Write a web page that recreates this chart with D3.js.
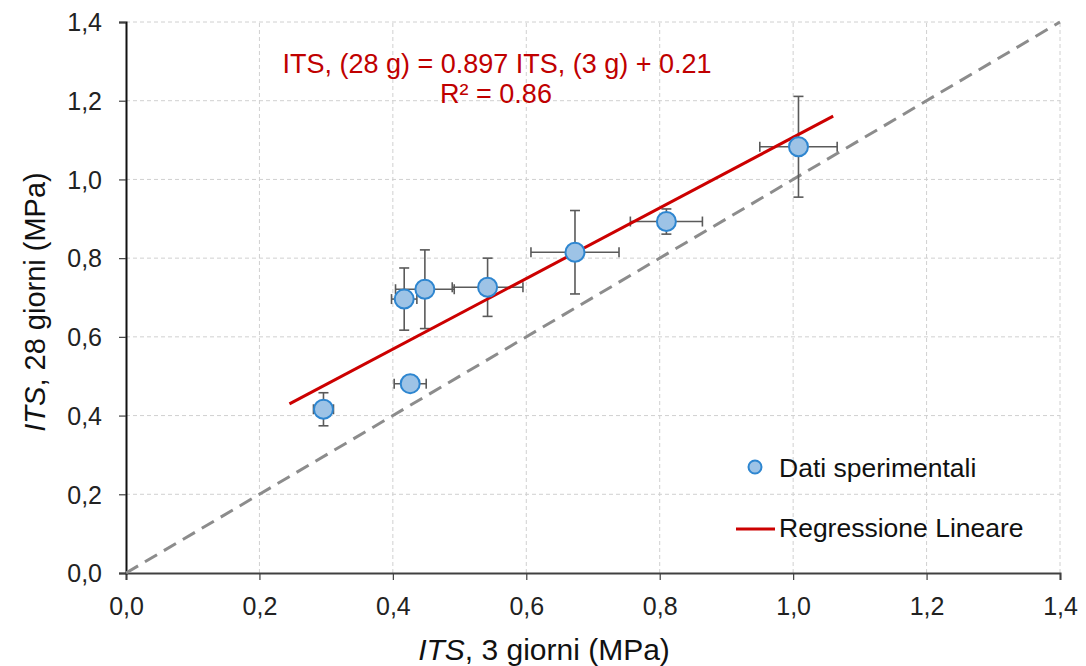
<!DOCTYPE html>
<html>
<head>
<meta charset="utf-8">
<script src="https://cdn.jsdelivr.net/npm/d3@7"></script>
<style>
  body { margin: 0; background: #fff; }
  text { font-family: "Liberation Sans", Arial, sans-serif; }
</style>
</head>
<body>
<script>
// valori
const its3 = [0.296, 0.426, 0.417, 0.448, 0.542, 0.673, 0.810, 1.008];
const its28 = [0.416, 0.481, 0.696, 0.721, 0.726, 0.815, 0.893, 1.083];
const errX = [0.015, 0.024, 0.019, 0.044, 0.053, 0.066, 0.054, 0.058];
const errY = [0.042, 0.010, 0.079, 0.100, 0.074, 0.106, 0.032, 0.128];
const fitSlope = 0.897;
const fitIntercept = 0.21;
const fitRange = [0.245, 1.06];
const ticks = [0, 0.2, 0.4, 0.6, 0.8, 1.0, 1.2, 1.4];

const width = 1086;
const height = 666;
const margin = { top: 22, right: 26, bottom: 93, left: 126 };

const svg = d3.select('body')
  .append('svg')
  .attr('width', width)
  .attr('height', height);

const x = d3.scaleLinear().domain([0, 1.4]).range([margin.left, width - margin.right]);
const y = d3.scaleLinear().domain([0, 1.4]).range([height - margin.bottom, margin.top]);
const fmt = d => d3.format('.1f')(d).replace('.', ',');

// griglia
svg.append('g').selectAll('line')
  .data(ticks.slice(1))
  .enter().append('line')
  .attr('x1', d => x(d)).attr('x2', d => x(d))
  .attr('y1', y(0)).attr('y2', y(1.4))
  .attr('stroke', '#d0d0d0').attr('stroke-dasharray', '4,3');
svg.append('g').selectAll('line')
  .data(ticks.slice(1))
  .enter().append('line')
  .attr('y1', d => y(d)).attr('y2', d => y(d))
  .attr('x1', x(0)).attr('x2', x(1.4))
  .attr('stroke', '#d0d0d0').attr('stroke-dasharray', '4,3');

// assi
const xAxis = svg.append('g')
  .attr('transform', `translate(0,${y(0)})`)
  .call(d3.axisBottom(x).tickValues(ticks).tickFormat(fmt).tickSize(7).tickPadding(17));
const yAxis = svg.append('g')
  .attr('transform', `translate(${x(0)},0)`)
  .call(d3.axisLeft(y).tickValues(ticks).tickFormat(fmt).tickSize(7).tickPadding(17));
[xAxis, yAxis].forEach(a => {
  a.select('.domain').attr('stroke', '#404040').attr('stroke-width', 2);
  a.selectAll('.tick line').attr('stroke', '#404040').attr('stroke-width', 1.2);
  a.selectAll('text').attr('font-size', 25).attr('fill', '#222')
    .style('font-family', '"Liberation Sans", Arial, sans-serif');
});
yAxis.select('.domain').attr('stroke', '#111');
yAxis.selectAll('text').attr('dy', '0.35em');

// bisettrice
svg.append('line')
  .attr('x1', x(0)).attr('y1', y(0))
  .attr('x2', x(1.4)).attr('y2', y(1.4))
  .attr('stroke', '#8c8c8c').attr('stroke-width', 3)
  .attr('stroke-dasharray', '14,8');

const pts = its3.map((v, i) => ({ x: v, y: its28[i], ex: errX[i], ey: errY[i] }));

// barre d'errore
const eb = svg.append('g').attr('stroke', '#5a5a5a').attr('stroke-width', 1.6);
const cap = 5;
pts.forEach(p => {
  eb.append('line').attr('x1', x(p.x - p.ex)).attr('x2', x(p.x + p.ex)).attr('y1', y(p.y)).attr('y2', y(p.y));
  eb.append('line').attr('x1', x(p.x - p.ex)).attr('x2', x(p.x - p.ex)).attr('y1', y(p.y) - cap).attr('y2', y(p.y) + cap);
  eb.append('line').attr('x1', x(p.x + p.ex)).attr('x2', x(p.x + p.ex)).attr('y1', y(p.y) - cap).attr('y2', y(p.y) + cap);
  eb.append('line').attr('x1', x(p.x)).attr('x2', x(p.x)).attr('y1', y(p.y - p.ey)).attr('y2', y(p.y + p.ey));
  eb.append('line').attr('x1', x(p.x) - cap).attr('x2', x(p.x) + cap).attr('y1', y(p.y - p.ey)).attr('y2', y(p.y - p.ey));
  eb.append('line').attr('x1', x(p.x) - cap).attr('x2', x(p.x) + cap).attr('y1', y(p.y + p.ey)).attr('y2', y(p.y + p.ey));
});

// retta di regressione
svg.append('line')
  .attr('x1', x(fitRange[0])).attr('y1', y(fitSlope * fitRange[0] + fitIntercept))
  .attr('x2', x(fitRange[1])).attr('y2', y(fitSlope * fitRange[1] + fitIntercept))
  .attr('stroke', '#cc0000').attr('stroke-width', 3);

// punti
svg.append('g').selectAll('circle')
  .data(pts)
  .enter().append('circle')
  .attr('cx', d => x(d.x)).attr('cy', d => y(d.y))
  .attr('r', 9.5)
  .attr('fill', '#9dc3e6').attr('stroke', '#2e86d0').attr('stroke-width', 2);

// equazione
svg.append('text')
  .attr('x', 497).attr('y', 72.5)
  .attr('text-anchor', 'middle').attr('font-size', 27).attr('fill', '#c00000')
  .text('ITS, (28 g) = 0.897 ITS, (3 g) + 0.21');
svg.append('text')
  .attr('x', 496).attr('y', 103)
  .attr('text-anchor', 'middle').attr('font-size', 27).attr('fill', '#c00000')
  .text('R² = 0.86');

// legenda
svg.append('circle').attr('cx', 755).attr('cy', 467).attr('r', 6.5)
  .attr('fill', '#9dc3e6').attr('stroke', '#2e86d0').attr('stroke-width', 2);
svg.append('text').attr('x', 779).attr('y', 476.5).attr('font-size', 26.5).attr('fill', '#111')
  .text('Dati sperimentali');
svg.append('line').attr('x1', 736).attr('x2', 775).attr('y1', 529).attr('y2', 529)
  .attr('stroke', '#cc0000').attr('stroke-width', 3);
svg.append('text').attr('x', 779).attr('y', 536.5).attr('font-size', 26.5).attr('fill', '#111')
  .text('Regressione Lineare');

// titoli assi
const xt = svg.append('text')
  .attr('x', 544).attr('y', 660)
  .attr('text-anchor', 'middle').attr('font-size', 30).attr('fill', '#111');
xt.append('tspan').attr('font-style', 'italic').text('ITS');
xt.append('tspan').text(', 3 giorni (MPa)');

const yt = svg.append('text')
  .attr('transform', `translate(45,302) rotate(-90)`)
  .attr('text-anchor', 'middle').attr('font-size', 29).attr('fill', '#111');
yt.append('tspan').attr('font-style', 'italic').text('ITS');
yt.append('tspan').text(', 28 giorni (MPa)');
</script>
</body>
</html>
